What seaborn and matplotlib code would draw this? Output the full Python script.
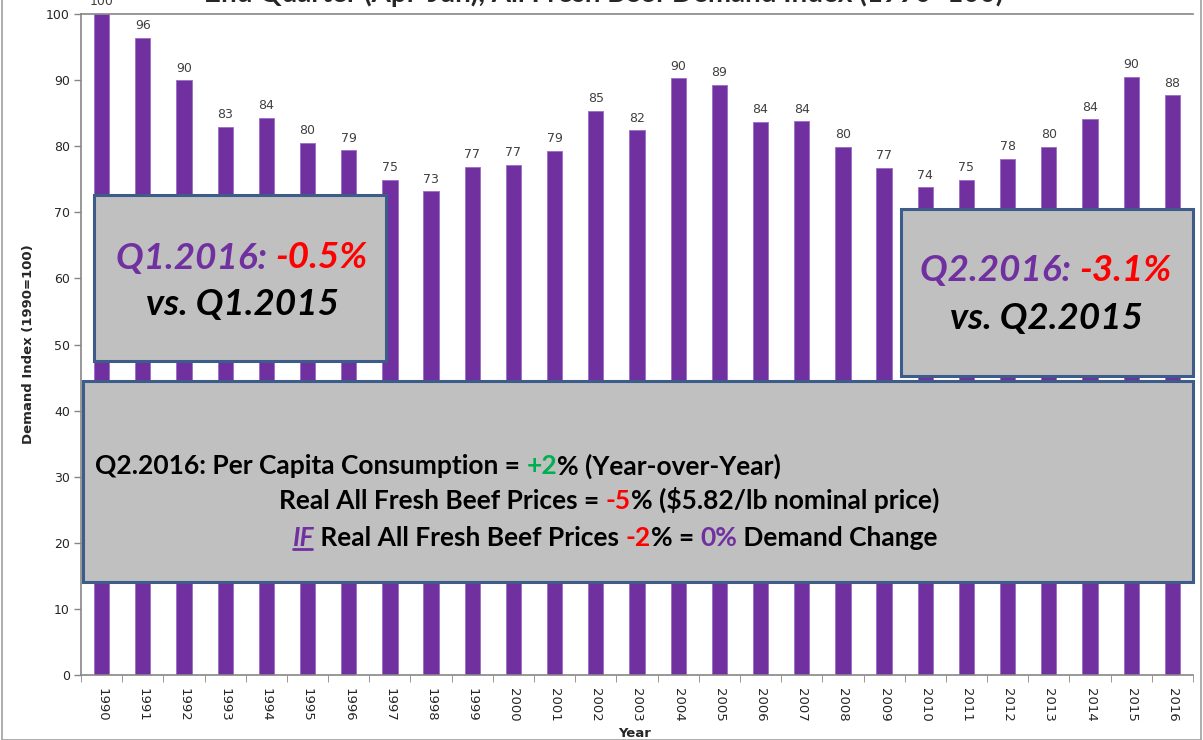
import matplotlib
matplotlib.use("Agg")
import matplotlib.pyplot as plt
import seaborn as sns
import pandas as pd
from matplotlib.patches import Rectangle
from matplotlib.lines import Line2D
from matplotlib.offsetbox import TextArea, HPacker, AnnotationBbox

# data
years = [str(y) for y in range(1990, 2017)]
demand = [100.0, 96.4, 90.0, 82.9, 84.3, 80.5, 79.4, 74.9, 73.2, 76.9, 77.2, 79.3, 85.4,
          82.4, 90.3, 89.3, 83.7, 83.8, 79.9, 76.7, 73.8, 74.9, 78.1, 79.9, 84.1, 90.5, 87.7]
y_ticks = list(range(0, 101, 10))

title = "2nd Quarter (Apr-Jun), All Fresh Beef Demand Index (1990=100)"

PURPLE = "#7030a0"
RED = "#ff0000"
GREEN = "#00b050"
GRAY_BOX = "#c0c0c0"
BOX_EDGE = "#3e5c8a"
AXIS_GRAY = "#868686"

sns.set_style("white")
plt.rcParams["font.family"] = ["DejaVu Sans"]

W, H = 1203, 740
fig = plt.figure(figsize=(W / 100, H / 100), dpi=100)


def fx(px):
    return px / W


def fy(py):
    return 1 - py / H


ax = fig.add_axes([fx(81), fy(675), fx(1193) - fx(81), fy(14) - fy(675)])

df = pd.DataFrame({"Year": years, "Index": demand})
sns.barplot(data=df, x="Year", y="Index", color=PURPLE, width=0.37,
            saturation=1, ax=ax, edgecolor="#9b6cc4", linewidth=0.6)
ax.bar_label(ax.containers[0], fmt="%.0f", padding=4, fontsize=9,
             color="#404040", clip_on=False)

ax.set_xlim(-0.5, len(years) - 0.5)
ax.set_ylim(0, 100)
ax.set_yticks(y_ticks)
ax.tick_params(axis="y", direction="out", length=5, width=1, color=AXIS_GRAY,
               labelsize=9, pad=3, left=True)
ax.set_xticks(range(len(years)))
ax.set_xticklabels(years, rotation=-90, fontsize=9.5)
ax.tick_params(axis="x", which="major", length=0, pad=9)
ax.set_xticks([i - 0.5 for i in range(len(years) + 1)], minor=True)
ax.tick_params(axis="x", which="minor", direction="out", length=5, color=AXIS_GRAY,
               bottom=True)
for side in ["left", "bottom", "top"]:
    ax.spines[side].set_color(AXIS_GRAY)
    ax.spines[side].set_linewidth(1.2)
ax.spines["right"].set_visible(False)

ax.set_xlabel("Year", fontsize=9.5, fontweight="bold")
ax.set_ylabel("Demand Index (1990=100)", fontsize=9.5, fontweight="bold", labelpad=8)
ax.xaxis.set_label_coords(0.498, -0.0885)
ax.xaxis.label.set_va("center")

# cut-off title at the very top
fig.text(0.502, fy(-7), title, ha="center", va="center", fontsize=20,
         fontweight="bold", family="Lato")

# figure frame
fig.patches.append(Rectangle((0.002, 0.0), 0.996, 1.2, transform=fig.transFigure,
                             fill=False, edgecolor="#a0a0a0", linewidth=1.2))

# grey call-out boxes
for (x0, y0, x1, y1) in [(94, 195, 386, 361), (901, 209, 1193, 376), (83, 381, 1193, 582)]:
    fig.patches.append(Rectangle((fx(x0), fy(y1)), fx(x1) - fx(x0), fy(y0) - fy(y1),
                                 transform=fig.transFigure, facecolor=GRAY_BOX,
                                 edgecolor=BOX_EDGE, linewidth=2.2, zorder=5))


def rich_line(parts, x, y, size, align=0.5, style="normal"):
    areas = []
    for txt, col in parts:
        areas.append(TextArea(txt, textprops=dict(color=col, fontsize=size, fontweight="bold",
                                                  fontstyle=style, family="Lato")))
    pack = HPacker(children=areas, pad=0, sep=0, align="baseline")
    ab = AnnotationBbox(pack, (fx(x), fy(y)), xycoords="figure fraction",
                        box_alignment=(align, 0.5), frameon=False, pad=0, zorder=10)
    fig.add_artist(ab)
    return areas


rich_line([("Q1.2016: ", PURPLE), ("-0.5%", RED)], 242, 258, 26.5, style="italic")
rich_line([("vs. Q1.2015", "black")], 242, 304, 26.5, style="italic")
rich_line([("Q2.2016: ", PURPLE), ("-3.1%", RED)], 1046, 270, 26.5, style="italic")
rich_line([("vs. Q2.2015", "black")], 1046, 318, 26.5, style="italic")

rich_line([("Q2.2016: Per Capita Consumption = ", "black"), ("+2", GREEN),
           ("% (Year-over-Year)", "black")], 95, 466, 19, align=0.0)
rich_line([("Real All Fresh Beef Prices = ", "black"), ("-5", RED),
           ("% ($5.82/lb nominal price)", "black")], 609, 500, 19)
line3 = rich_line([("IF", PURPLE), (" Real All Fresh Beef Prices ", "black"), ("-2", RED),
                   ("% = ", "black"), ("0%", PURPLE), (" Demand Change", "black")],
                  615, 538, 19)
# italic style only for "IF"
line3[0]._text.set_fontstyle("italic")

fig.canvas.draw()
bb = line3[0].get_window_extent(fig.canvas.get_renderer())
fig.add_artist(Line2D([bb.x0 / W, (bb.x1 - 2) / W], [bb.y0 / H + 0.002, bb.y0 / H + 0.002],
                      transform=fig.transFigure, color=PURPLE, linewidth=2, zorder=11))

fig.savefig("out.png", dpi=100)
